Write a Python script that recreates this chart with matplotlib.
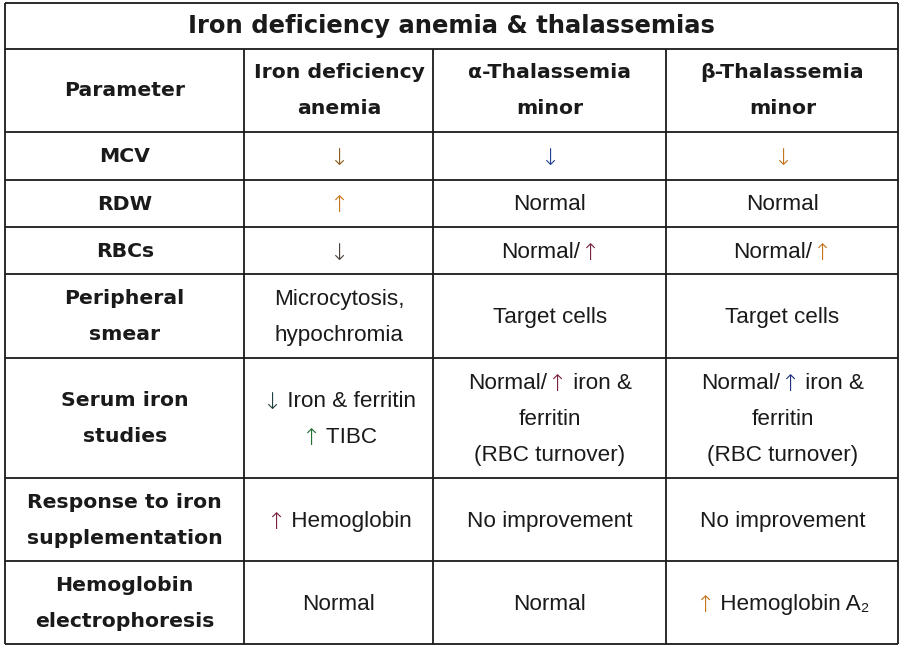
import matplotlib
matplotlib.use("Agg")
import matplotlib.pyplot as plt

title = "Iron deficiency anemia & thalassemias"
col_headers = ["Parameter", "Iron deficiency\nanemia", "α-Thalassemia\nminor", "β-Thalassemia\nminor"]
parameters = ["MCV", "RDW", "RBCs", "Peripheral\nsmear", "Serum iron\nstudies",
              "Response to iron\nsupplementation", "Hemoglobin\nelectrophoresis"]
ida = ["↓", "↑", "↓", "Microcytosis,\nhypochromia", "↓ Iron & ferritin\n↑ TIBC",
       "↑ Hemoglobin", "Normal"]
alpha_thal = ["↓", "Normal", "Normal/↑", "Target cells",
              "Normal/↑ iron &\nferritin\n(RBC turnover)", "No improvement", "Normal"]
beta_thal = ["↓", "Normal", "Normal/↑", "Target cells",
             "Normal/↑ iron &\nferritin\n(RBC turnover)", "No improvement", "↑ Hemoglobin A₂"]

# arrow tints, in order of appearance in each cell
arrow_colors = {
    (0, 1): ["#8a5a1e"], (0, 2): ["#1f3f8f"], (0, 3): ["#c7731a"],
    (1, 1): ["#c7731a"],
    (2, 1): ["#4a3f35"], (2, 2): ["#7a1f3f"], (2, 3): ["#c7731a"],
    (4, 1): ["#1f4040", "#1f6f2f"], (4, 2): ["#7a1f3f"], (4, 3): ["#1f2f7f"],
    (5, 1): ["#7a1f3f"],
    (6, 3): ["#c7731a"],
}

W, H = 903, 646
col_edges = [5, 244.5, 433.5, 666.5, 898.5]
row_edges = [2.5, 48.5, 131.5, 179.5, 226.5, 273.5, 357.5, 477.5, 561, 643.5]
line_gap = 36
ink = "#1a1a1a"
body_font = dict(family="Liberation Sans", size=16.2)
arrow_font = dict(family="DejaVu Sans", size=16.5, weight="light")
bold_font = dict(family="DejaVu Sans", size=14.7, weight="bold")

fig = plt.figure(figsize=(W / 100, H / 100), dpi=100)
ax = fig.add_axes([0, 0, 1, 1])
ax.set_xlim(0, W)
ax.set_ylim(H, 0)
ax.axis("off")
renderer = fig.canvas.get_renderer()

# grid lines
lw = 1.3
ax.hlines(row_edges, col_edges[0], col_edges[-1], color=ink, lw=lw)
ax.vlines([col_edges[0], col_edges[-1]], row_edges[0], row_edges[-1], color=ink, lw=lw)
ax.vlines(col_edges[1:-1], row_edges[1], row_edges[-1], color=ink, lw=lw)


def text_width(s, font):
    t = ax.text(0, 0, "|" + s + "|", **font)
    w = t.get_window_extent(renderer).width
    t.set_text("||")
    w -= t.get_window_extent(renderer).width
    t.remove()
    return w


def draw_line(xc, y, line, font, colors):
    # split into segments so that arrows can take their own font and colour
    segs = []
    buf = ""
    for ch in line:
        if ch in "↑↓":
            if buf:
                segs.append((buf, ink, font))
                buf = ""
            segs.append((ch, colors.pop(0) if colors else ink,
                         arrow_font if font is body_font else font))
        else:
            buf += ch
    if buf:
        segs.append((buf, ink, font))
    widths = [text_width(s, f) for s, c, f in segs]
    x = xc - sum(widths) / 2
    for (s, c, f), w in zip(segs, widths):
        dy = 1 if f is arrow_font else 0
        ax.text(x, y + dy, s, color=c, ha="left", va="center", **f)
        x += w


def draw_cell(r0, r1, c, txt, font, colors=None, dy=0):
    xc = (col_edges[c] + col_edges[c + 1]) / 2
    yc = (r0 + r1) / 2 + dy
    lines = txt.split("\n")
    colors = list(colors or [])
    for i, line in enumerate(lines):
        y = yc + (i - (len(lines) - 1) / 2) * line_gap
        draw_line(xc, y, line, font, colors)


ax.text(W / 2, (row_edges[0] + row_edges[1]) / 2 + 1, title, ha="center", va="center",
        color=ink, family="DejaVu Sans", size=17.5, weight="bold")

for c, h in enumerate(col_headers):
    draw_cell(row_edges[1], row_edges[2], c, h, bold_font, dy=1)

for r in range(len(parameters)):
    r0, r1 = row_edges[r + 2], row_edges[r + 3]
    draw_cell(r0, r1, 0, parameters[r], bold_font, dy=1.5)
    for c, col in enumerate([ida, alpha_thal, beta_thal], start=1):
        draw_cell(r0, r1, c, col[r], body_font, arrow_colors.get((r, c)), dy=2)

fig.savefig("out.png", dpi=100, facecolor="white")
